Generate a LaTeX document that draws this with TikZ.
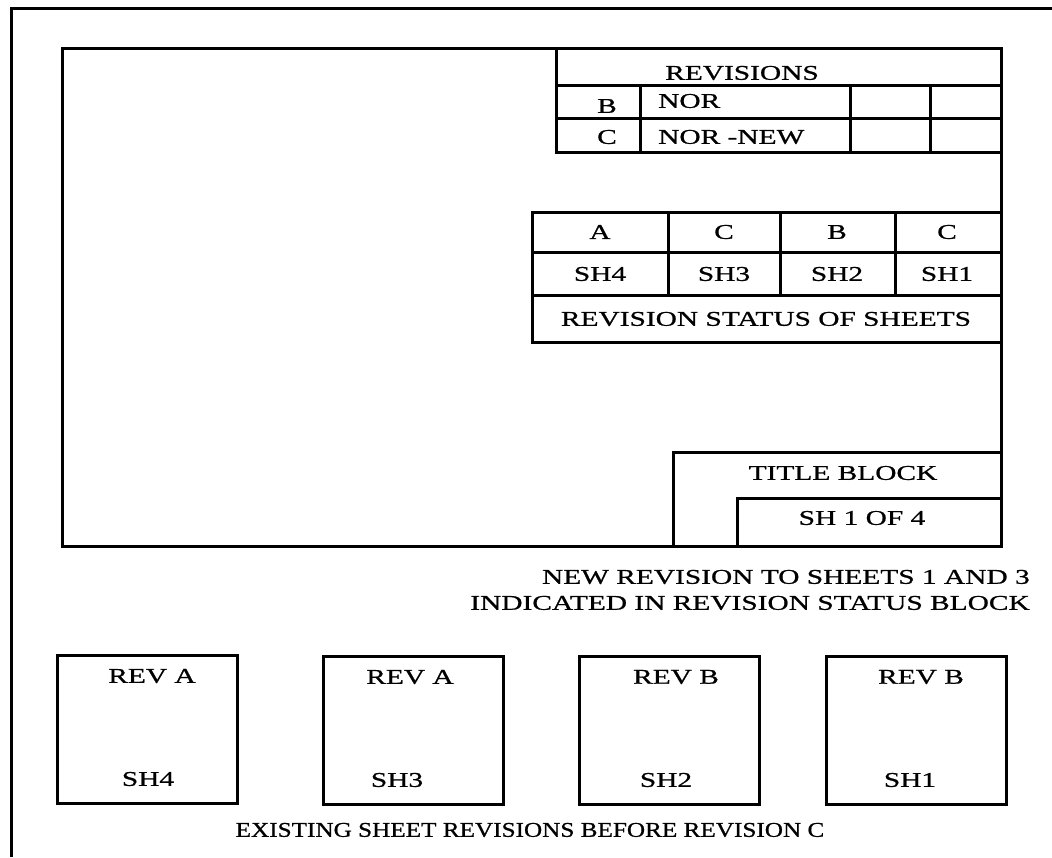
\documentclass[tikz,border=0pt]{standalone}
\usepackage{fontspec}
\setmainfont{Liberation Serif}[FakeStretch=1.4, FakeBold=0.8]
\newfontfamily\captionfont{Liberation Serif}[FakeStretch=1.2, FakeBold=0.8]
\tikzset{
	frame/.style={line width=3pt},
	rule/.style={line width=3pt},
	lbl/.style={inner sep=0pt, font=\fontsize{21}{25}\selectfont},
	sheetbox/.style={draw, line width=3pt, minimum width=180pt, minimum height=148pt, inner sep=0pt},
}
\begin{document}
\begin{tikzpicture}[x=1pt, y=-1pt]
	\useasboundingbox (0,0) rectangle (1052,857);
	
	% outer border and drawing sheet
	\draw [frame] (11,857) -- (11,8) -- (1052,8);
	\draw [frame] (62,48) rectangle (1001,546);
	
	% revisions block
	\draw [rule] (556,48) -- (556,152) -- (1001,152);
	\draw [rule] (556,85) -- (1001,85);
	\draw [rule] (556,118) -- (1001,118);
	\draw [rule] (640,85) -- (640,152);
	\draw [rule] (850,85) -- (850,152);
	\draw [rule] (930,85) -- (930,152);
	\node [lbl] (revhead) at (742,73) {REVISIONS};
	\node [lbl] (revb) at (607,106) {B};
	\node [lbl] (revc) at (607,137) {C};
	\node [lbl, anchor=west] (norb) at (658,101) {NOR};
	\node [lbl, anchor=west] (norc) at (658,137) {NOR -NEW};
	
	% revision status block
	\draw [rule] (532,212) rectangle (1001,342);
	\draw [rule] (532,252) -- (1001,252);
	\draw [rule] (532,295) -- (1001,295);
	\draw [rule] (668,212) -- (668,295);
	\draw [rule] (780,212) -- (780,295);
	\draw [rule] (895,212) -- (895,295);
	\node [lbl] (st4) at (600,232) {A};
	\node [lbl] (st3) at (724,232) {C};
	\node [lbl] (st2) at (837,232) {B};
	\node [lbl] (st1) at (947,232) {C};
	\node [lbl] (sh4) at (600,274) {SH4};
	\node [lbl] (sh3) at (724,274) {SH3};
	\node [lbl] (sh2) at (837,274) {SH2};
	\node [lbl] (sh1) at (947,274) {SH1};
	\node [lbl] (status) at (766,319) {REVISION STATUS OF SHEETS};
	
	% title block
	\draw [rule] (673,546) -- (673,452) -- (1001,452);
	\draw [rule] (737,546) -- (737,498) -- (1001,498);
	\node [lbl] (title) at (843,473) {TITLE BLOCK};
	\node [lbl] (sheetno) at (862,518) {SH 1 OF 4};
	
	\node [lbl, anchor=east] (note1) at (1030,577) {NEW REVISION TO SHEETS 1 AND 3};
	\node [lbl, anchor=east] (note2) at (1030,603) {INDICATED IN REVISION STATUS BLOCK};
	
	% existing sheets
	\node [sheetbox] (sheet4) at (147,729) {};
	\node [sheetbox] (sheet3) at (413,730) {};
	\node [sheetbox] (sheet2) at (669,730) {};
	\node [sheetbox] (sheet1) at (916,730) {};
	\node [lbl] (rev4) at (152,676) {REV A};
	\node [lbl] (rev3) at (410,677) {REV A};
	\node [lbl] (rev2) at (676,677) {REV B};
	\node [lbl] (rev1) at (921,677) {REV B};
	\node [lbl] (lab4) at (148,779) {SH4};
	\node [lbl] (lab3) at (397,780) {SH3};
	\node [lbl] (lab2) at (666,780) {SH2};
	\node [lbl] (lab1) at (910,780) {SH1};
	\node [lbl, font=\captionfont\fontsize{21}{25}\selectfont] (caption) at (530,830) {EXISTING SHEET REVISIONS BEFORE REVISION C};
\end{tikzpicture}
\end{document}
